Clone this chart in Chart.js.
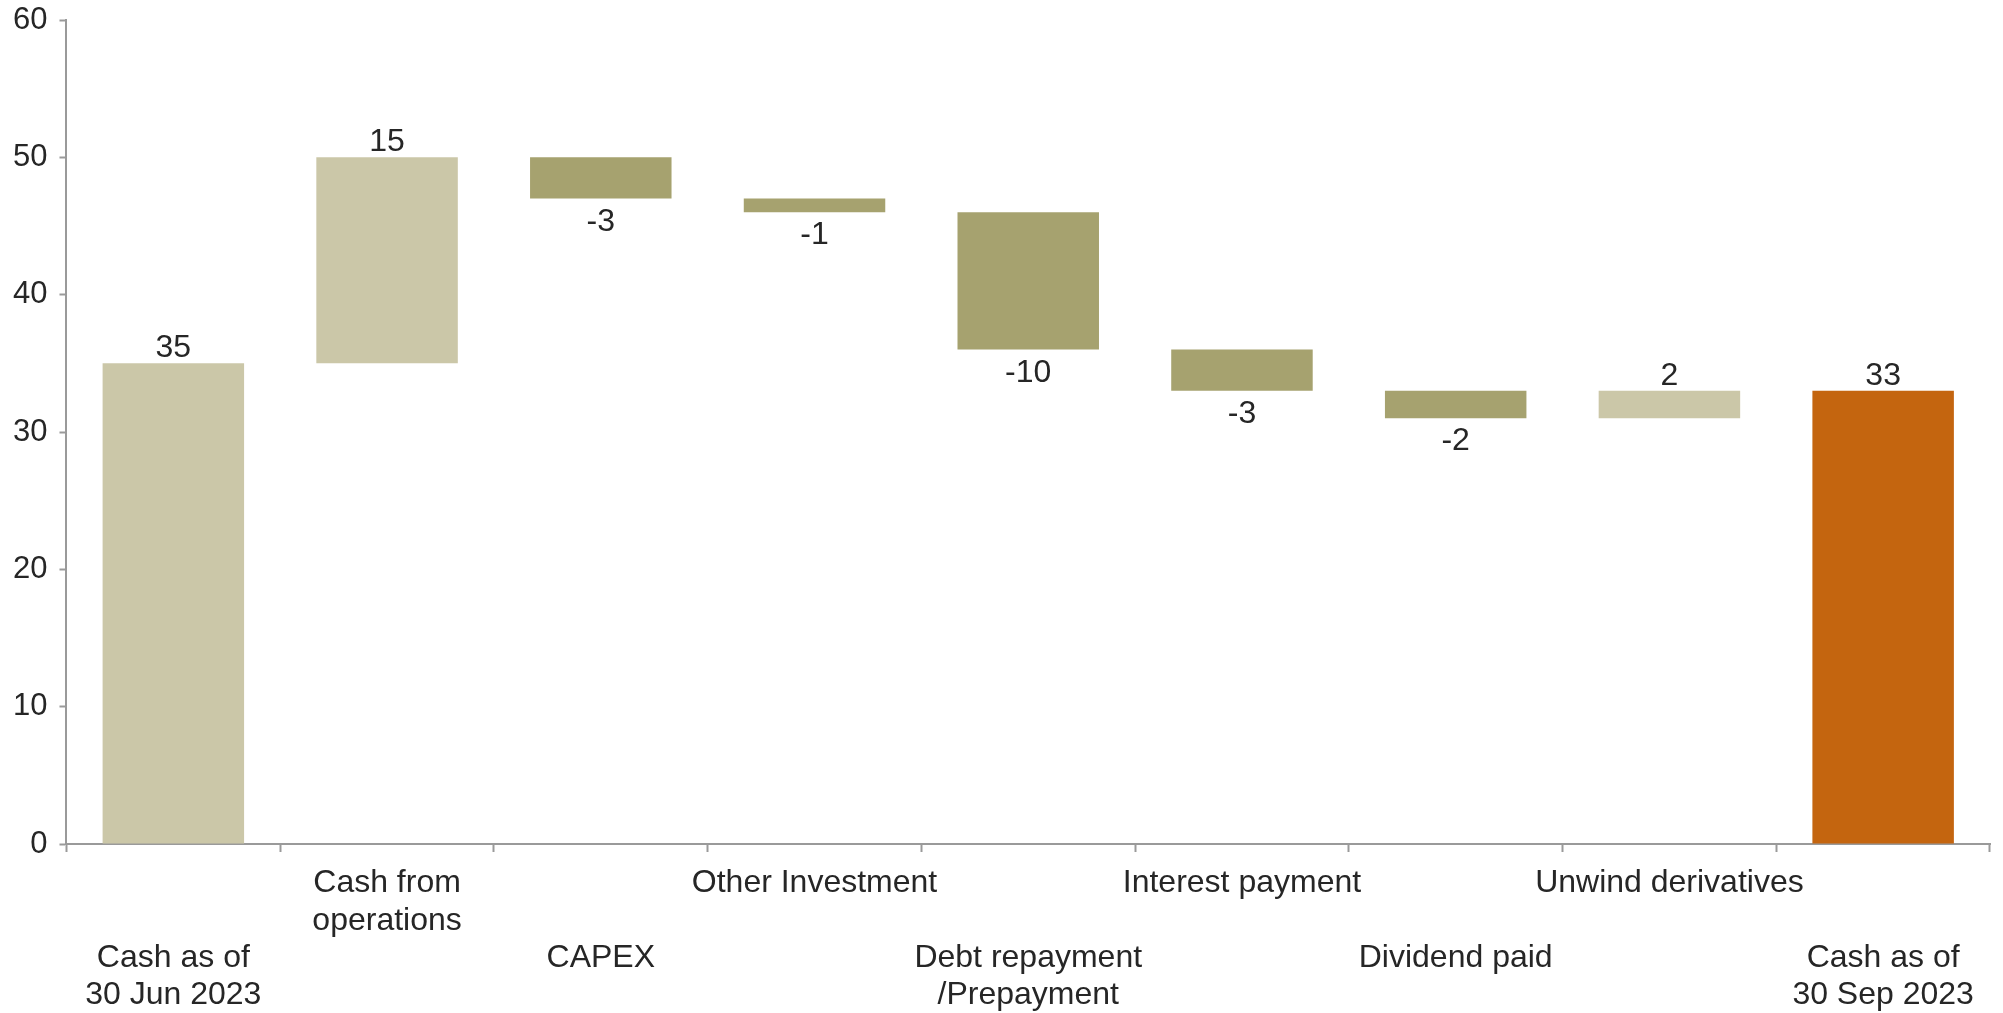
<!DOCTYPE html>
<html>
<head>
<meta charset="utf-8">
<script src="https://cdn.jsdelivr.net/npm/chart.js@4"></script>
<style>
  html, body { margin: 0; padding: 0; background: #fff; }
  #wrap { width: 2003px; height: 1013px; }
</style>
</head>
<body>
<div id="wrap"><canvas id="myChart" width="2003" height="1013"></canvas></div>
<script>
// podaci za waterfall
var kategorije = [
  ['', '', 'Cash as of', '30 Jun 2023'],
  ['Cash from', 'operations'],
  ['', '', 'CAPEX'],
  ['Other Investment'],
  ['', '', 'Debt repayment', '/Prepayment'],
  ['Interest payment'],
  ['', '', 'Dividend paid'],
  ['Unwind derivatives'],
  ['', '', 'Cash as of', '30 Sep 2023']
];
var promene = [35, 15, -3, -1, -10, -3, -2, 2, 33];
var ukupno = [true, false, false, false, false, false, false, false, true]; // pocetak i kraj idu od nule
var boje = ['#CBC7A8', '#CBC7A8', '#A6A26F', '#A6A26F', '#A6A26F', '#A6A26F', '#A6A26F', '#CBC7A8', '#C4650F'];
var yTicks = [0, 10, 20, 30, 40, 50, 60];

// plutajuci stubici iz promena
var stubici = [];
var tekuce = 0;
for (var i = 0; i < promene.length; i++) {
  if (ukupno[i]) {
    stubici.push([0, promene[i]]);
    tekuce = promene[i];
  } else {
    stubici.push([tekuce, tekuce + promene[i]]);
    tekuce += promene[i];
  }
}

var FONT = 'Liberation Sans, Arial, sans-serif';
var TEXT = '#262626';
var OSA = '#9a9a9a';

// oznake vrednosti iznad / ispod stubica
var oznake = {
  id: 'oznake',
  afterDatasetsDraw: function(chart) {
    var ctx = chart.ctx;
    var meta = chart.getDatasetMeta(0);
    ctx.save();
    ctx.font = '32px ' + FONT;
    ctx.fillStyle = TEXT;
    ctx.textAlign = 'center';
    ctx.textBaseline = 'alphabetic';
    meta.data.forEach(function(bar, i) {
      var v = promene[i];
      var top = Math.min(bar.y, bar.base);
      var bot = Math.max(bar.y, bar.base);
      if (v >= 0) {
        ctx.fillText(String(v), bar.x, top - 6);
      } else {
        ctx.fillText(String(v), bar.x, bot + 32);
      }
    });
    ctx.restore();
  }
};

var canvas = document.getElementById('myChart');
var myChart = new Chart(canvas.getContext('2d'), {
  type: 'bar',
  data: {
    labels: kategorije,
    datasets: [{
      data: stubici,
      backgroundColor: boje,
      borderWidth: 0,
      categoryPercentage: 1,
      barPercentage: 0.662
    }]
  },
  options: {
    responsive: false,
    animation: false,
    layout: { padding: { left: 1, right: 13, top: 20, bottom: 0 } },
    plugins: {
      legend: { display: false },
      tooltip: { enabled: false }
    },
    scales: {
      x: {
        offset: true,
        afterFit: function(scale) { scale.height = 169; },
        grid: {
          offset: true,
          drawOnChartArea: false,
          drawTicks: true,
          tickLength: 8,
          tickColor: OSA,
          tickWidth: 2
        },
        border: { display: true, color: OSA, width: 2 },
        ticks: {
          autoSkip: false,
          maxRotation: 0,
          minRotation: 0,
          padding: 13,
          color: TEXT,
          font: { family: FONT, size: 32, lineHeight: 1.16 }
        }
      },
      y: {
        min: 0,
        max: 60,
        afterBuildTicks: function(axis) {
          axis.ticks = yTicks.map(function(v) { return { value: v }; });
        },
        afterFit: function(scale) { scale.paddingTop = 0; scale.paddingBottom = 0; },
        grid: {
          drawOnChartArea: false,
          drawTicks: true,
          tickLength: 7,
          tickColor: OSA,
          tickWidth: 2
        },
        border: { display: true, color: OSA, width: 2 },
        ticks: {
          padding: 12,
          color: TEXT,
          font: { family: FONT, size: 31 }
        }
      }
    }
  },
  plugins: [oznake]
});
</script>
</body>
</html>
